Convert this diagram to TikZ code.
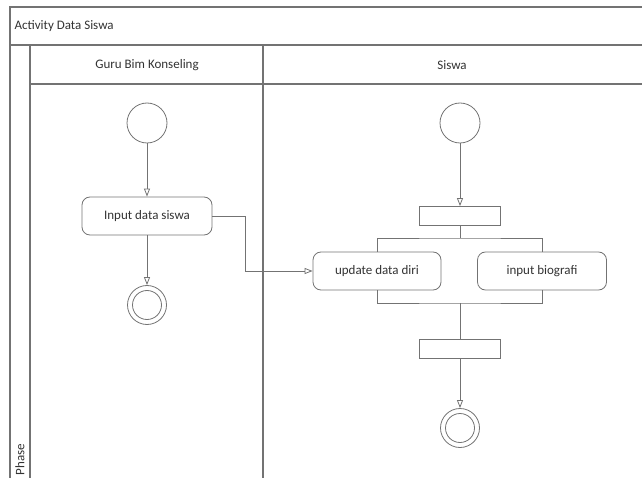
\documentclass[tikz,border=0pt]{standalone}
\usepackage{fontspec}
\setmainfont{Carlito}
\usetikzlibrary{arrows.meta,positioning}
\definecolor{linegray}{RGB}{115,115,115}
\definecolor{textgray}{RGB}{50,50,50}

\begin{document}
\begin{tikzpicture}[x=1pt, y=-1pt, font=\fontsize{13}{15}\selectfont, text=textgray]
    % Define the styles for each node
    \tikzstyle{lane} = [draw=linegray, line width=1.1pt]
    \tikzstyle{initial} = [circle, draw=linegray, line width=0.8pt, minimum size=40pt, inner sep=0pt]
    \tikzstyle{final} = [circle, draw=linegray, line width=0.8pt, minimum size=39pt, inner sep=0pt,
        path picture={\draw[linegray, line width=0.8pt] (path picture bounding box.center) circle (14.5pt);}]
    \tikzstyle{action} = [rectangle, rounded corners=8pt, draw=linegray, line width=0.8pt, minimum height=38pt]
    \tikzstyle{bar} = [rectangle, draw=linegray, line width=0.8pt, minimum width=81pt, minimum height=19pt]
    \tikzstyle{flow} = [draw=linegray, line width=0.8pt]
    \tikzstyle{arr} = [flow, -{Triangle[open, length=8pt, width=6pt]}]

    \useasboundingbox (0,0) rectangle (642,478);

    % Swimlane frame
    \draw[lane] (10,478) -- (10,7) -- (642,7);
    \draw[lane] (10,45) -- (642,45);
    \draw[lane] (30,478) -- (30,45);
    \draw[lane] (30,84) -- (642,84);
    \draw[lane] (263,478) -- (263,45);

    % Titles
    \node[anchor=west] (title) at (11,26) {Activity Data Siswa};
    \node (guru) at (147,65) {Guru Bim Konseling};
    \node (siswa) at (452,65) {Siswa};
    \node[rotate=90, anchor=west] (phase) at (20,479) {Phase};

    % Guru Bim Konseling lane
    \node[initial] (start1) at (147,123) {};
    \node[action, minimum width=130pt] (input) at (147,216) {Input data siswa};
    \node[final] (end1) at (147,305) {};

    % Siswa lane
    \node[initial] (start2) at (460,123) {};
    \node[bar] (fork) at (460,216) {};
    \node[action, minimum width=128pt] (update) at (377,271) {update data diri};
    \node[action, minimum width=129pt] (biografi) at (542,271) {input biografi};
    \node[bar] (join) at (460,349) {};
    \node[final] (end2) at (460,428) {};

    \coordinate (bend) at (245,216);
    \coordinate (forkline) at (460,238);
    \coordinate (joinline) at (460,303);

    % Draw the arrows between the nodes
    \draw[arr] (start1) -- (input);
    \draw[arr] (input) -- (end1);
    \draw[arr] (input.east) -- (bend) |- (update.west);
    \draw[arr] (start2) -- (fork);
    \draw[flow] (fork) -- (forkline);
    \draw[flow] (update.north) |- (forkline) -| (biografi.north);
    \draw[flow] (update.south) |- (joinline) -| (biografi.south);
    \draw[flow] (joinline) -- (join);
    \draw[arr] (join) -- (end2);
\end{tikzpicture}
\end{document}
